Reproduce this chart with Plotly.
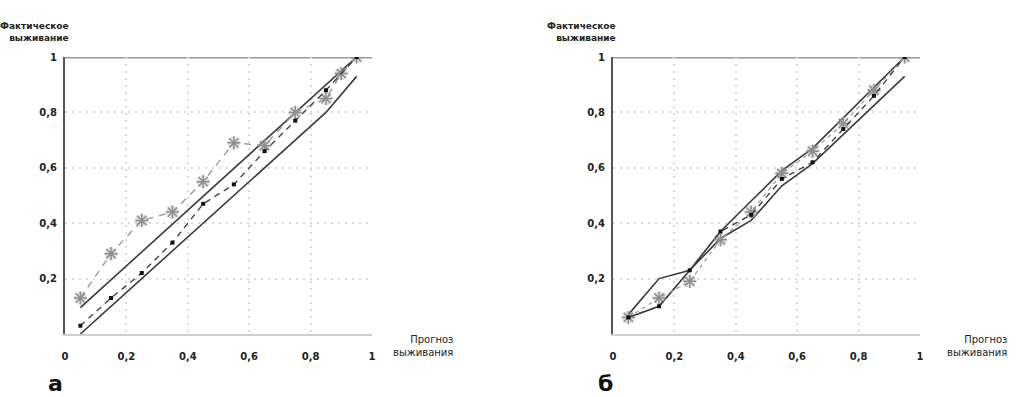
import plotly.graph_objects as go

# ---------- data ----------
bins = [0.05, 0.15, 0.25, 0.35, 0.45, 0.55, 0.65, 0.75, 0.85, 0.95]

# panel а
a_star_x = [0.05, 0.15, 0.25, 0.35, 0.45, 0.55, 0.65, 0.75, 0.85, 0.90, 0.95]
a_star_y = [0.13, 0.29, 0.41, 0.44, 0.55, 0.69, 0.68, 0.80, 0.85, 0.94, 1.00]
a_dot_y = [0.03, 0.13, 0.22, 0.33, 0.47, 0.54, 0.66, 0.77, 0.88, 1.00]
a_upper_x = [0.05, 0.95]
a_upper_y = [0.095, 1.00]
a_lower_x = [0.05, 0.85, 0.95]
a_lower_y = [0.00, 0.80, 0.93]

# panel б
b_star_y = [0.06, 0.13, 0.19, 0.34, 0.44, 0.58, 0.66, 0.76, 0.88, 1.00]
b_dot_y = [0.06, 0.10, 0.23, 0.37, 0.43, 0.56, 0.62, 0.74, 0.86, 1.00]
b_upper_x = [0.05, 0.15, 0.25, 0.35, 0.45, 0.55, 0.65, 0.95]
b_upper_y = [0.07, 0.20, 0.23, 0.37, 0.48, 0.59, 0.67, 1.00]
b_lower_x = [0.05, 0.15, 0.25, 0.35, 0.45, 0.55, 0.65, 0.95]
b_lower_y = [0.06, 0.10, 0.23, 0.345, 0.41, 0.535, 0.615, 0.93]

x_ticks = [0, 0.2, 0.4, 0.6, 0.8, 1]
x_tick_text = ["0", "0,2", "0,4", "0,6", "0,8", "1"]
y_ticks = [0.2, 0.4, 0.6, 0.8, 1]
y_tick_text = ["0,2", "0,4", "0,6", "0,8", "1"]

y_title = "Фактическое<br>выживание"
x_title = "Прогноз<br>выживания"
panel_labels = ["а", "б"]

# ---------- figure ----------
W, H = 1024, 397
fig = go.Figure()

solid = dict(color="#3a3a3a", width=1.6)
dot_line = dict(color="#444444", width=1.4, dash="6px,5px")
star_line_a = dict(color="#9a9a9a", width=1.4, dash="7px,6px")
star_marker = dict(symbol="asterisk-open", size=11, color="#8f8f8f",
                   line=dict(color="#8f8f8f", width=1.5))
halo_marker = dict(symbol="circle", size=13, color="rgba(170,170,170,0.35)",
                   line=dict(width=0))
dot_marker = dict(symbol="square", size=4, color="#111111")

def add_panel(xa, ya, star_x, star_y, star_line, dot_y, ux, uy, lx, ly):
    fig.add_trace(go.Scatter(x=ux, y=uy, mode="lines", line=solid,
                             xaxis=xa, yaxis=ya, showlegend=False))
    fig.add_trace(go.Scatter(x=lx, y=ly, mode="lines", line=solid,
                             xaxis=xa, yaxis=ya, showlegend=False))
    fig.add_trace(go.Scatter(x=star_x, y=star_y, mode="markers",
                             marker=halo_marker,
                             xaxis=xa, yaxis=ya, showlegend=False))
    fig.add_trace(go.Scatter(x=star_x, y=star_y, mode="lines+markers",
                             line=star_line, marker=star_marker,
                             xaxis=xa, yaxis=ya, showlegend=False))
    fig.add_trace(go.Scatter(x=bins, y=dot_y, mode="lines+markers",
                             line=dot_line, marker=dot_marker,
                             xaxis=xa, yaxis=ya, showlegend=False))

add_panel("x", "y", a_star_x, a_star_y, star_line_a, a_dot_y,
          a_upper_x, a_upper_y, a_lower_x, a_lower_y)
add_panel("x2", "y2", bins, b_star_y, dict(color="#9a9a9a", width=1.2, dash="4px,4px"),
          b_dot_y, b_upper_x, b_upper_y, b_lower_x, b_lower_y)

def px_x(p):
    return p / W

def px_y(p):
    return 1 - p / H

top_px, bot_px = 57, 334
dom_y = [px_y(bot_px), px_y(top_px)]
dom_x1 = [px_x(65), px_x(372)]
dom_x2 = [px_x(613), px_x(920)]

tick_font = dict(family="DejaVu Sans", size=10, color="#222222", weight="bold")

def xaxis(domain, anchor):
    return dict(domain=domain, anchor=anchor, range=[0, 1],
                tickvals=x_ticks, ticktext=x_tick_text, tickfont=tick_font,
                ticks="", ticklabelstandoff=12,
                showgrid=True, gridcolor="#dadada", griddash="2px,5px", gridwidth=2,
                showline=True, linecolor="#cfcfcf", linewidth=2,
                zeroline=False, mirror=False, fixedrange=True)

def yaxis(domain, anchor):
    return dict(domain=domain, anchor=anchor, range=[0, 1],
                tickvals=y_ticks, ticktext=y_tick_text, tickfont=tick_font,
                ticks="", ticklabelstandoff=4,
                showgrid=True, gridcolor="#dadada", griddash="2px,5px", gridwidth=2,
                showline=True, linecolor="#555555", linewidth=2,
                zeroline=False, fixedrange=True)

fig.update_layout(
    width=W, height=H,
    margin=dict(l=0, r=0, t=0, b=0, autoexpand=False),
    paper_bgcolor="white", plot_bgcolor="white",
    xaxis=xaxis(dom_x1, "y"), yaxis=yaxis(dom_y, "x"),
    xaxis2=xaxis(dom_x2, "y2"), yaxis2=yaxis(dom_y, "x2"),
    showlegend=False,
)

# top border at y = 1 (thick grey)
for xr, yr in (("x", "y"), ("x2", "y2")):
    fig.add_shape(type="line", xref=f"{xr} domain", yref=yr,
                  x0=0, x1=1, y0=1, y1=1,
                  line=dict(color="#9a9a9a", width=3), layer="below")

ann_font_bold = dict(family="DejaVu Sans", size=9, color="#222222", weight="bold")
ann_font = dict(family="DejaVu Sans", size=10, color="#222222")

for right_px, xt_right in ((71, 455), (618, 1009)):
    fig.add_annotation(text=y_title, xref="paper", yref="paper",
                       x=px_x(right_px), y=px_y(19), xanchor="right", yanchor="top",
                       align="right", showarrow=False, font=ann_font_bold)
    fig.add_annotation(text=x_title, xref="paper", yref="paper",
                       x=px_x(xt_right), y=px_y(332), xanchor="right", yanchor="top",
                       align="right", showarrow=False, font=ann_font)

for lbl, cx in zip(panel_labels, (55, 605)):
    fig.add_annotation(text=lbl, xref="paper", yref="paper",
                       x=px_x(cx), y=px_y(383), xanchor="center", yanchor="middle",
                       showarrow=False,
                       font=dict(family="DejaVu Sans", size=22, color="#111111",
                                 weight="bold"))

fig.write_html(
    "out.html",
    config={"displayModeBar": False},
    post_script="document.body.style.margin='0';document.body.style.padding='0';"
                "document.documentElement.style.overflow='hidden';"
                "document.body.style.overflow='hidden';",
)
